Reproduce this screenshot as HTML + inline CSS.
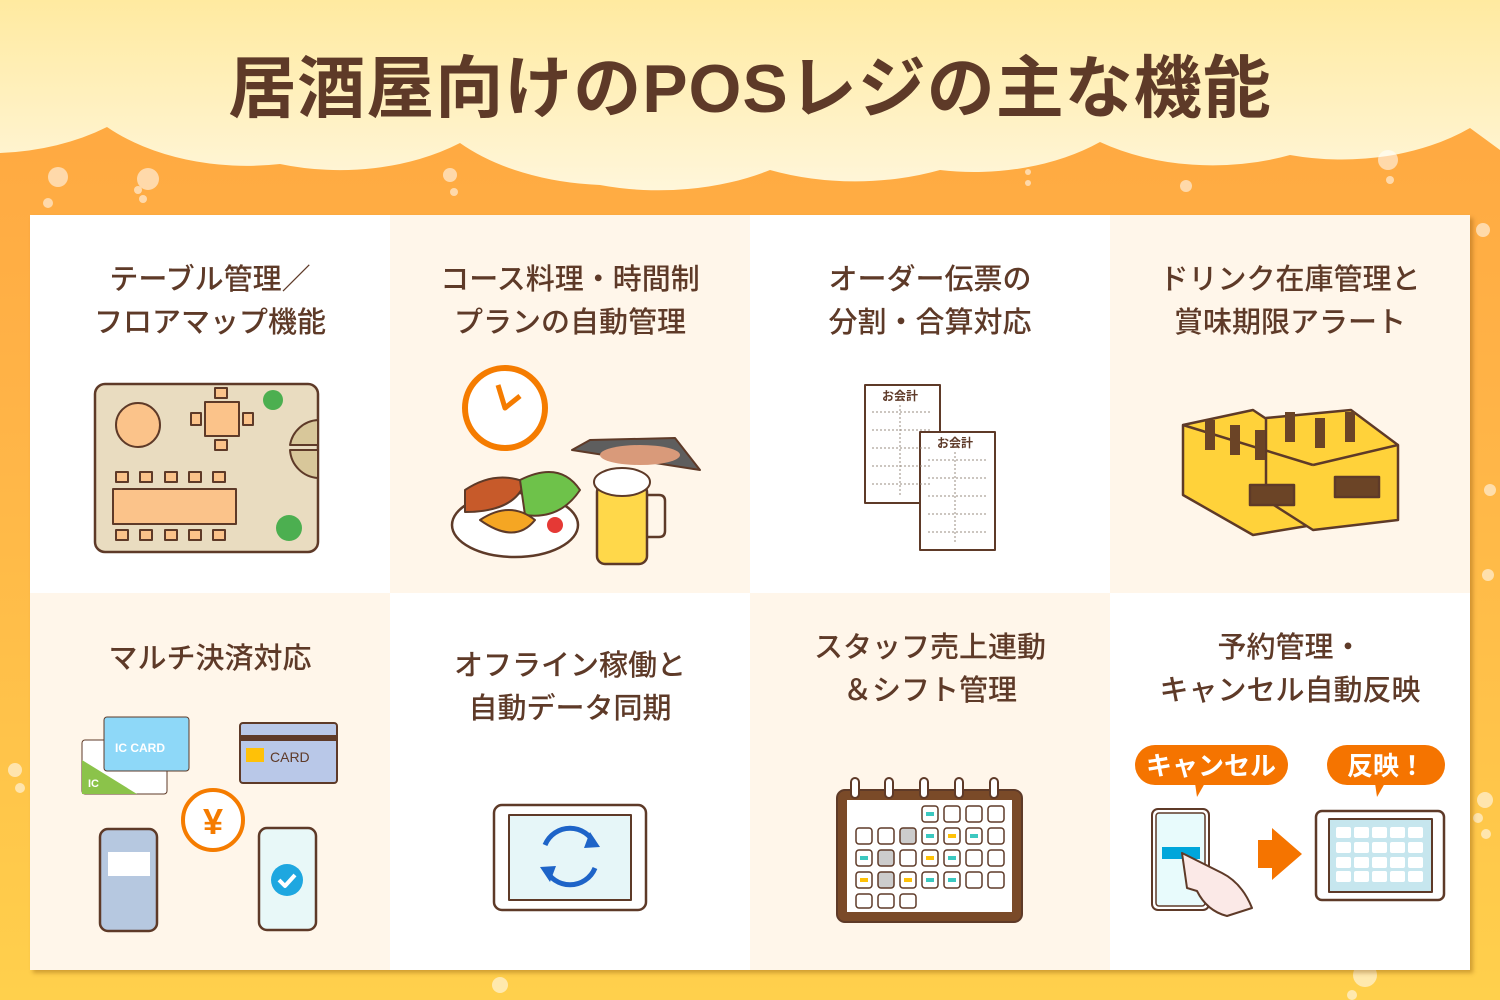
<!DOCTYPE html>
<html><head><meta charset="utf-8"><style>
*{margin:0;padding:0;box-sizing:border-box}
body{width:1500px;height:1000px;overflow:hidden;position:relative;background:linear-gradient(#ffa53f 0%,#ffb347 40%,#ffd04c 100%);font-family:"Liberation Sans","Noto Sans CJK JP",sans-serif}
.t{position:absolute;left:0;width:1500px;top:33px;text-align:center;font-size:68px;font-weight:bold;color:#5e3a28;letter-spacing:1px}
.grid{position:absolute;left:30px;top:215px;width:1440px;height:755px;box-shadow:3px 3px 4px rgba(120,70,0,.35)}
.c{position:absolute;width:360px;height:377.5px}
.w{background:#fff}.k{background:#fff6ea}
.l{position:absolute;left:0;width:360px;text-align:center;font-size:29px;line-height:43px;color:#5e3a28;font-weight:500}
</style></head><body>
<svg style="position:absolute;left:0;top:0" width="1500" height="1000">
<defs><linearGradient id="cg" x1="0" y1="0" x2="0" y2="1"><stop offset="0" stop-color="#ffeaa0"/><stop offset="1" stop-color="#fff6da"/></linearGradient></defs>
<path fill="url(#cg)" d="M0 0H1500V150 L1470 128 A190 120 0 0 1 1290 155 A190 120 0 0 1 1100 142 A190 120 0 0 1 940 170 A200 120 0 0 1 770 170 A200 120 0 0 1 600 185 A200 120 0 0 1 460 143 A190 120 0 0 1 280 164 A190 120 0 0 1 107 127 A190 120 0 0 1 0 153Z"/>
<g fill="#fff" opacity=".55">
<circle cx="58" cy="177" r="10"/><circle cx="48" cy="203" r="5"/><circle cx="148" cy="179" r="11"/><circle cx="138" cy="190" r="4"/><circle cx="143" cy="199" r="4"/><circle cx="450" cy="175" r="7"/><circle cx="454" cy="192" r="4"/><circle cx="1028" cy="172" r="3"/><circle cx="1028" cy="183" r="3"/><circle cx="1186" cy="186" r="6"/><circle cx="1388" cy="160" r="10"/><circle cx="1390" cy="180" r="4"/><circle cx="1483" cy="230" r="7"/><circle cx="1488" cy="575" r="6"/><circle cx="1485" cy="800" r="8"/><circle cx="1478" cy="818" r="5"/><circle cx="1486" cy="834" r="5"/><circle cx="15" cy="770" r="7"/><circle cx="20" cy="788" r="5"/><circle cx="1365" cy="975" r="12"/><circle cx="1352" cy="995" r="5"/><circle cx="500" cy="985" r="8"/><circle cx="1490" cy="490" r="6"/>
</g></svg>
<div class="t">居酒屋向けのPOSレジの主な機能</div>
<div class="grid">
<div class="c w" style="left:0;top:0"><div class="l" style="top:44px">テーブル管理／<br>フロアマップ機能</div></div>
<div class="c k" style="left:360px;top:0"><div class="l" style="top:44px">コース料理・時間制<br>プランの自動管理</div></div>
<div class="c w" style="left:720px;top:0"><div class="l" style="top:44px">オーダー伝票の<br>分割・合算対応</div></div>
<div class="c k" style="left:1080px;top:0"><div class="l" style="top:44px">ドリンク在庫管理と<br>賞味期限アラート</div></div>
<div class="c k" style="left:0;top:377.5px"><div class="l" style="top:45px">マルチ決済対応</div></div>
<div class="c w" style="left:360px;top:377.5px"><div class="l" style="top:52px">オフライン稼働と<br>自動データ同期</div></div>
<div class="c k" style="left:720px;top:377.5px"><div class="l" style="top:34px">スタッフ売上連動<br>＆シフト管理</div></div>
<div class="c w" style="left:1080px;top:377.5px"><div class="l" style="top:34px">予約管理・<br>キャンセル自動反映</div></div>
</div>
<svg style="position:absolute;left:0;top:0" width="1500" height="1000" stroke-linejoin="round">
<rect x="95" y="384" width="223" height="168" rx="10" fill="#e9dcc0" stroke="#5e3a28" stroke-width="2.5"/>
<circle cx="138" cy="425" r="22" fill="#fbc38a" stroke="#5e3a28" stroke-width="2"/>
<rect x="205" y="402" width="34" height="34" fill="#fbc38a" stroke="#5e3a28" stroke-width="2"/>
<rect x="113" y="489" width="123" height="35" fill="#fbc38a" stroke="#5e3a28" stroke-width="2"/>
<g fill="#fbc38a" stroke="#5e3a28" stroke-width="2"><rect x="116" y="472" width="12" height="10"/><rect x="140" y="472" width="12" height="10"/><rect x="165" y="472" width="12" height="10"/><rect x="189" y="472" width="12" height="10"/><rect x="213" y="472" width="12" height="10"/><rect x="116" y="530" width="12" height="10"/><rect x="140" y="530" width="12" height="10"/><rect x="165" y="530" width="12" height="10"/><rect x="189" y="530" width="12" height="10"/><rect x="213" y="530" width="12" height="10"/><rect x="215" y="388" width="12" height="10"/><rect x="215" y="440" width="12" height="10"/><rect x="191" y="413" width="10" height="12"/><rect x="243" y="413" width="10" height="12"/></g>
<path d="M318 420 A30 30 0 0 0 290 445 L318 445Z M318 450 L290 450 A30 30 0 0 0 318 478Z" fill="#d8c79a" stroke="#5e3a28" stroke-width="2"/>
<circle cx="273" cy="400" r="10" fill="#4caf50"/><circle cx="289" cy="528" r="13" fill="#4caf50"/>
<circle cx="505" cy="408" r="40" fill="#fff" stroke="#f57c00" stroke-width="6"/>
<path d="M498 385 L505 408 L520 396" fill="none" stroke="#f57c00" stroke-width="5"/>
<path d="M572 450 L700 470 L675 438 L590 440Z" fill="#5e5e5e" stroke="#5e3a28" stroke-width="2"/>
<ellipse cx="640" cy="455" rx="40" ry="10" fill="#d99a7a"/>
<ellipse cx="515" cy="525" rx="63" ry="32" fill="#fff" stroke="#5e3a28" stroke-width="2.5"/>
<path d="M465 490 q30-20 60-8 q-10 30 -60 30z" fill="#c75a2a" stroke="#5e3a28" stroke-width="2"/>
<path d="M520 480 q40-20 60 10 q-20 30 -55 25z" fill="#6ec24a" stroke="#5e3a28" stroke-width="2"/>
<path d="M480 520 q30-20 55 0 q-20 25 -55 0z" fill="#f5a623" stroke="#5e3a28" stroke-width="2"/>
<circle cx="555" cy="525" r="8" fill="#e53935"/>
<rect x="597" y="484" width="50" height="80" rx="8" fill="#ffd84a" stroke="#5e3a28" stroke-width="2.5"/>
<path d="M647 495 h12 q6 0 6 6 v30 q0 6 -6 6 h-12" fill="none" stroke="#5e3a28" stroke-width="2.5"/>
<ellipse cx="622" cy="482" rx="28" ry="14" fill="#fff" stroke="#5e3a28" stroke-width="2"/>
<g fill="#fff" stroke="#5e3a28" stroke-width="2"><rect x="865" y="385" width="75" height="118"/><rect x="920" y="432" width="75" height="118"/></g>
<g stroke="#9a8c80" stroke-width="1" stroke-dasharray="2 2"><path d="M872 412h60M872 430h60M872 448h60M872 466h60M872 484h60M928 460h60M928 478h60M928 496h60M928 514h60M928 532h60M900 405v90M955 452v92"/></g>
<text x="882" y="400" font-size="12" fill="#5e3a28" font-weight="bold">お会計</text><text x="937" y="447" font-size="12" fill="#5e3a28" font-weight="bold">お会計</text>
<g stroke="#5e3a28" stroke-width="2.5">
<path d="M1183 425 l70-15 60 40 v75 l-60 10 -70-40z" fill="#ffd23a"/>
<path d="M1266 418 l85-8 47 35 v75 l-85 10 -47-30z" fill="#ffd23a"/>
<path d="M1183 425 l130 40 M1313 465 l85-20" fill="none"/>
<rect x="1250" y="485" width="44" height="20" fill="#6b4426"/><rect x="1335" y="477" width="44" height="20" fill="#6b4426"/>
</g>
<g fill="#6b4426"><rect x="1205" y="420" width="10" height="30"/><rect x="1230" y="425" width="10" height="30"/><rect x="1255" y="430" width="10" height="30"/><rect x="1285" y="412" width="10" height="30"/><rect x="1315" y="418" width="10" height="30"/><rect x="1345" y="412" width="10" height="30"/></g>
<rect x="82" y="740" width="85" height="54" rx="3" fill="#fff" stroke="#5e3a28"/><path d="M82 760 l0 34 h55z" fill="#8bc34a"/>
<rect x="104" y="717" width="85" height="54" rx="3" fill="#8ed8f8" stroke="#5e3a28"/>
<text x="115" y="752" font-size="12" fill="#fff" font-weight="bold">IC CARD</text><text x="88" y="787" font-size="11" fill="#fff" font-weight="bold">IC</text>
<rect x="240" y="723" width="97" height="60" rx="3" fill="#b9c8e8" stroke="#5e3a28" stroke-width="2"/><rect x="240" y="735" width="97" height="6" fill="#5e3a28"/>
<text x="270" y="762" font-size="14" fill="#5e3a28">CARD</text><rect x="246" y="748" width="18" height="14" fill="#ffc107"/>
<circle cx="213" cy="820" r="30" fill="#fff" stroke="#f57c00" stroke-width="4"/><text x="213" y="834" font-size="36" text-anchor="middle" fill="#f57c00" font-weight="bold">¥</text>
<rect x="100" y="829" width="57" height="102" rx="8" fill="#b6c8e0" stroke="#5e3a28" stroke-width="2.5"/><rect x="108" y="852" width="42" height="24" fill="#fff"/>
<rect x="259" y="828" width="57" height="102" rx="8" fill="#e8f8f8" stroke="#5e3a28" stroke-width="2.5"/><circle cx="287" cy="880" r="16" fill="#1ea7e0"/><path d="M279 880 l6 6 10-11" fill="none" stroke="#fff" stroke-width="4"/>
<rect x="494" y="805" width="152" height="105" rx="8" fill="#fff" stroke="#5e3a28" stroke-width="2.5"/>
<rect x="509" y="815" width="122" height="85" fill="#e6f6f8" stroke="#5e3a28" stroke-width="2"/>
<path d="M545 845 a27 27 0 0 1 50 0 M595 868 a27 27 0 0 1 -50 0" fill="none" stroke="#1e64c8" stroke-width="5"/>
<path d="M590 832 l10 15 -16 1z M550 882 l-10 -15 16 -1z" fill="#1e64c8"/>
<rect x="837" y="790" width="185" height="132" rx="8" fill="#7a4a28" stroke="#5e3a28" stroke-width="2"/>
<rect x="847" y="800" width="165" height="112" fill="#fff"/>
<g fill="#fff" stroke="#5e3a28" stroke-width="2"><rect x="851" y="778" width="8" height="20" rx="4"/><rect x="885" y="778" width="8" height="20" rx="4"/><rect x="920" y="778" width="8" height="20" rx="4"/><rect x="955" y="778" width="8" height="20" rx="4"/><rect x="990" y="778" width="8" height="20" rx="4"/></g>
<g fill="#fff" stroke="#5e3a28" stroke-width="1.5">
<rect x="922" y="806" width="16" height="16" rx="3"/><rect x="944" y="806" width="16" height="16" rx="3"/><rect x="966" y="806" width="16" height="16" rx="3"/><rect x="988" y="806" width="16" height="16" rx="3"/>
<rect x="856" y="828" width="16" height="16" rx="3"/><rect x="878" y="828" width="16" height="16" rx="3"/><rect x="900" y="828" width="16" height="16" rx="3" fill="#ccc"/><rect x="922" y="828" width="16" height="16" rx="3"/><rect x="944" y="828" width="16" height="16" rx="3"/><rect x="966" y="828" width="16" height="16" rx="3"/><rect x="988" y="828" width="16" height="16" rx="3"/>
<rect x="856" y="850" width="16" height="16" rx="3"/><rect x="878" y="850" width="16" height="16" rx="3" fill="#ccc"/><rect x="900" y="850" width="16" height="16" rx="3"/><rect x="922" y="850" width="16" height="16" rx="3"/><rect x="944" y="850" width="16" height="16" rx="3"/><rect x="966" y="850" width="16" height="16" rx="3"/><rect x="988" y="850" width="16" height="16" rx="3"/>
<rect x="856" y="872" width="16" height="16" rx="3"/><rect x="878" y="872" width="16" height="16" rx="3" fill="#ccc"/><rect x="900" y="872" width="16" height="16" rx="3"/><rect x="922" y="872" width="16" height="16" rx="3"/><rect x="944" y="872" width="16" height="16" rx="3"/><rect x="966" y="872" width="16" height="16" rx="3"/><rect x="988" y="872" width="16" height="16" rx="3"/>
<rect x="856" y="894" width="16" height="14" rx="3"/><rect x="878" y="894" width="16" height="14" rx="3"/><rect x="900" y="894" width="16" height="14" rx="3"/>
</g>
<g fill="#3cc8c0"><rect x="926" y="812" width="8" height="4"/><rect x="926" y="834" width="8" height="4"/><rect x="970" y="834" width="8" height="4"/><rect x="860" y="856" width="8" height="4"/><rect x="948" y="856" width="8" height="4"/><rect x="948" y="878" width="8" height="4"/><rect x="926" y="878" width="8" height="4"/></g>
<g fill="#ffc107"><rect x="948" y="834" width="8" height="4"/><rect x="926" y="856" width="8" height="4"/><rect x="860" y="878" width="8" height="4"/><rect x="904" y="878" width="8" height="4"/></g>
<rect x="1135" y="745" width="153" height="40" rx="20" fill="#f57400"/><path d="M1195 783 l10 0 -8 14z" fill="#f57400"/>
<text x="1211" y="775" font-size="26" fill="#fff" text-anchor="middle" font-weight="bold">キャンセル</text>
<rect x="1327" y="745" width="118" height="40" rx="20" fill="#f57400"/><path d="M1375 783 l10 0 -8 14z" fill="#f57400"/>
<text x="1386" y="775" font-size="26" fill="#fff" text-anchor="middle" font-weight="bold">反映！</text>
<rect x="1152" y="809" width="57" height="101" rx="6" fill="#fff" stroke="#5e3a28" stroke-width="2"/><rect x="1156" y="813" width="49" height="93" rx="3" fill="#e8fbfc" stroke="#5e3a28" stroke-width="1.5"/>
<rect x="1162" y="847" width="38" height="12" fill="#00a6db"/>
<path d="M1182 853 l40 20 q20 10 30 35 l-25 8 q-20 -5 -30 -25 l-10-3z" fill="#fbe9e7" stroke="#5e3a28" stroke-width="2"/>
<path d="M1258 840 h14 v-12 l30 26 -30 26 v-12 h-14z" fill="#f57400"/>
<rect x="1316" y="811" width="128" height="89" rx="6" fill="#fff" stroke="#5e3a28" stroke-width="2.5"/><rect x="1329" y="819" width="103" height="73" fill="#c6e6ee" stroke="#5e3a28" stroke-width="2"/>
<g fill="#fff"><rect x="1336" y="827" width="15" height="11" rx="2"/><rect x="1354" y="827" width="15" height="11" rx="2"/><rect x="1372" y="827" width="15" height="11" rx="2"/><rect x="1390" y="827" width="15" height="11" rx="2"/><rect x="1408" y="827" width="15" height="11" rx="2"/>
<rect x="1336" y="842" width="15" height="11" rx="2"/><rect x="1354" y="842" width="15" height="11" rx="2"/><rect x="1372" y="842" width="15" height="11" rx="2"/><rect x="1390" y="842" width="15" height="11" rx="2"/><rect x="1408" y="842" width="15" height="11" rx="2"/>
<rect x="1336" y="857" width="15" height="11" rx="2"/><rect x="1354" y="857" width="15" height="11" rx="2"/><rect x="1372" y="857" width="15" height="11" rx="2"/><rect x="1390" y="857" width="15" height="11" rx="2"/><rect x="1408" y="857" width="15" height="11" rx="2"/>
<rect x="1336" y="871" width="15" height="11" rx="2"/><rect x="1354" y="871" width="15" height="11" rx="2"/><rect x="1372" y="871" width="15" height="11" rx="2"/><rect x="1390" y="871" width="15" height="11" rx="2"/><rect x="1408" y="871" width="15" height="11" rx="2"/></g>
</svg>
</body></html>
